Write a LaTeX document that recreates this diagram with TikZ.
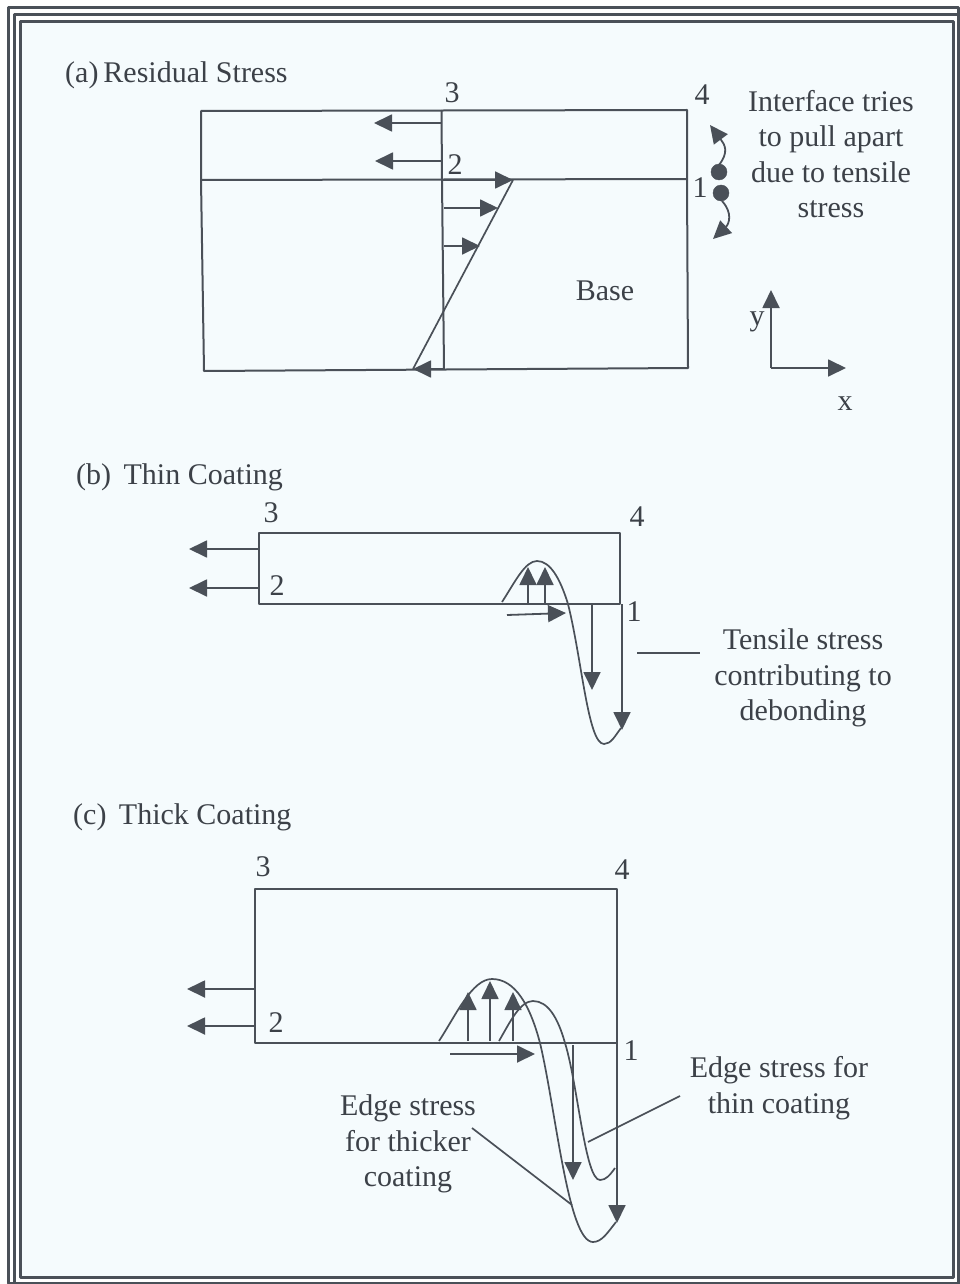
\documentclass[tikz,border=0pt]{standalone}
\usepackage{fontspec}
\setmainfont{Liberation Serif}
\usetikzlibrary{arrows.meta}
\definecolor{paper}{HTML}{F5FBFD}
\definecolor{ink}{HTML}{4A5058}
\definecolor{print}{HTML}{3C4148}
\tikzset{
  lab/.style={text=print,font=\fontsize{30}{35.5}\selectfont,inner sep=0pt,align=center},
  stress/.style={draw=ink,line width=1.8pt,-{Triangle[length=18pt,width=17pt]}},
  body/.style={draw=ink,line width=2pt},
  profile/.style={draw=ink,line width=1.7pt},
  frameline/.style={draw=ink,line width=3pt}
}
\begin{document}
\begin{tikzpicture}[x=1pt,y=-1pt,join=round] % Coating stress panels
        \useasboundingbox (0,0) rectangle (959,1284);
        \fill[white] (0,0) rectangle (959,1284);
        \fill[paper] (20,22) rectangle (953,1277);
        \draw[frameline] (8,8) rectangle (958,1283);
        \draw[frameline] (14.5,15) rectangle (958,1283);
        \draw[frameline] (20,22) rectangle (953,1277);
        % (a)
        \coordinate (a3) at (441.5,110);
        \coordinate (a2) at (442,180);
        \coordinate (ab) at (444,369);
        \coordinate (atip) at (513,180);
        \coordinate (abot) at (413,369);
        \draw[body] (201,111)--(687,110)--(687,180)--(688,368)--(204,371)--(201,180)--cycle;
        \draw[body] (201,180)--(687,179);
        \draw[body] (a3)--(a2)--(ab);
        \draw[profile] (atip)--(abot);
        \draw[stress] (441,123)--(374,123);
        \draw[stress] (441,161)--(375,161);
        \draw[stress] (a2)--(atip);
        \draw[stress] (444,208)--(498,208);
        \draw[stress] (444,246)--(480,246);
        \draw[stress] (ab)--(abot);
        \filldraw[ink] (719,172) circle (8pt);
        \filldraw[ink] (721,193) circle (8pt);
        \draw[stress] (719,165) .. controls (729,152) and (725,145) .. (710,125);
        \draw[stress] (722,201) .. controls (733,213) and (729,224) .. (713,239);
        \draw[stress] (771,368)--(771,290);
        \draw[stress] (771,368)--(846,368);
        \node[lab,anchor=west] (atitle) at (65,75) {(a)\,Residual Stress};
        \node[lab] (a3lab) at (452,93) {3};
        \node[lab] (a4lab) at (702,95) {4};
        \node[lab] (a2lab) at (455,165) {2};
        \node[lab] (a1lab) at (700,188) {1};
        \node[lab] (baselab) at (605,291) {Base};
        \node[lab] (pull) at (831,154) {Interface tries\\to pull apart\\due to tensile\\stress};
        \node[lab] (ylab) at (757,322) {y};
        \node[lab] (xlab) at (845,404) {x};
        % (b)
        \draw[body] (259,533) rectangle (620,604);
        \draw[stress] (259,549)--(189,549);
        \draw[stress] (259,588)--(189,588);
        \draw[profile] (502,602) .. controls (515,582) and (525,561) .. (537,561)
                .. controls (550,561) and (560,578) .. (568,604)
                .. controls (582,660) and (588,744) .. (604,744)
                .. controls (611,744) and (615,736) .. (621,728);
        \draw[stress] (528,604)--(528,567);
        \draw[stress] (545,604)--(545,567);
        \draw[stress] (507,615)--(566,613);
        \draw[stress] (592,604)--(592,690);
        \draw[stress] (622,604)--(622,730);
        \node[lab,anchor=west] (btitle) at (76,477) {(b)\, Thin Coating};
        \node[lab] (b3lab) at (271,513) {3};
        \node[lab] (b4lab) at (637,517) {4};
        \node[lab] (b2lab) at (277,586) {2};
        \node[lab] (b1lab) at (634,612) {1};
        \node[lab] (tensile) at (803,678) {Tensile stress\\contributing to\\debonding};
        \coordinate (bend) at (637,653);
        \draw[body] (bend)--(700,653);
        % (c)
        \draw[body] (255,889) rectangle (617,1043);
        \draw[stress] (255,989)--(187,989);
        \draw[stress] (255,1026)--(187,1026);
        \draw[profile] (439,1041) .. controls (456,1015) and (472,979) .. (492,979)
                .. controls (515,979) and (530,1005) .. (540,1043)
                .. controls (556,1110) and (568,1242) .. (593,1242)
                .. controls (602,1242) and (608,1232) .. (616,1222);
        \draw[profile] (499,1041) .. controls (510,1022) and (520,1001) .. (533,1001)
                .. controls (548,1001) and (558,1018) .. (565,1043)
                .. controls (578,1085) and (585,1180) .. (600,1180)
                .. controls (606,1180) and (610,1175) .. (615,1168);
        \draw[stress] (468,1041)--(468,992);
        \draw[stress] (490,1041)--(490,981);
        \draw[stress] (513,1041)--(513,992);
        \draw[stress] (450,1054)--(535,1054);
        \draw[stress] (573,1045)--(573,1180);
        \draw[stress] (617,1043)--(617,1223);
        \node[lab,anchor=west] (ctitle) at (73,817) {(c)\, Thick Coating};
        \node[lab] (c3lab) at (263,867) {3};
        \node[lab] (c4lab) at (622,870) {4};
        \node[lab] (c2lab) at (276,1023) {2};
        \node[lab] (c1lab) at (631,1051) {1};
        \node[lab] (thinlab) at (779,1088) {Edge stress for\\thin coating};
        \node[lab] (thicklab) at (408,1144) {Edge stress\\for thicker\\coating};
        \coordinate (thinfree) at (680,1096);
        \coordinate (thinend) at (588,1142);
        \coordinate (thickfree) at (472,1128);
        \coordinate (thickend) at (572,1205);
        \draw[profile] (thinfree)--(thinend);
        \draw[profile] (thickfree)--(thickend);
\end{tikzpicture}
\end{document}
